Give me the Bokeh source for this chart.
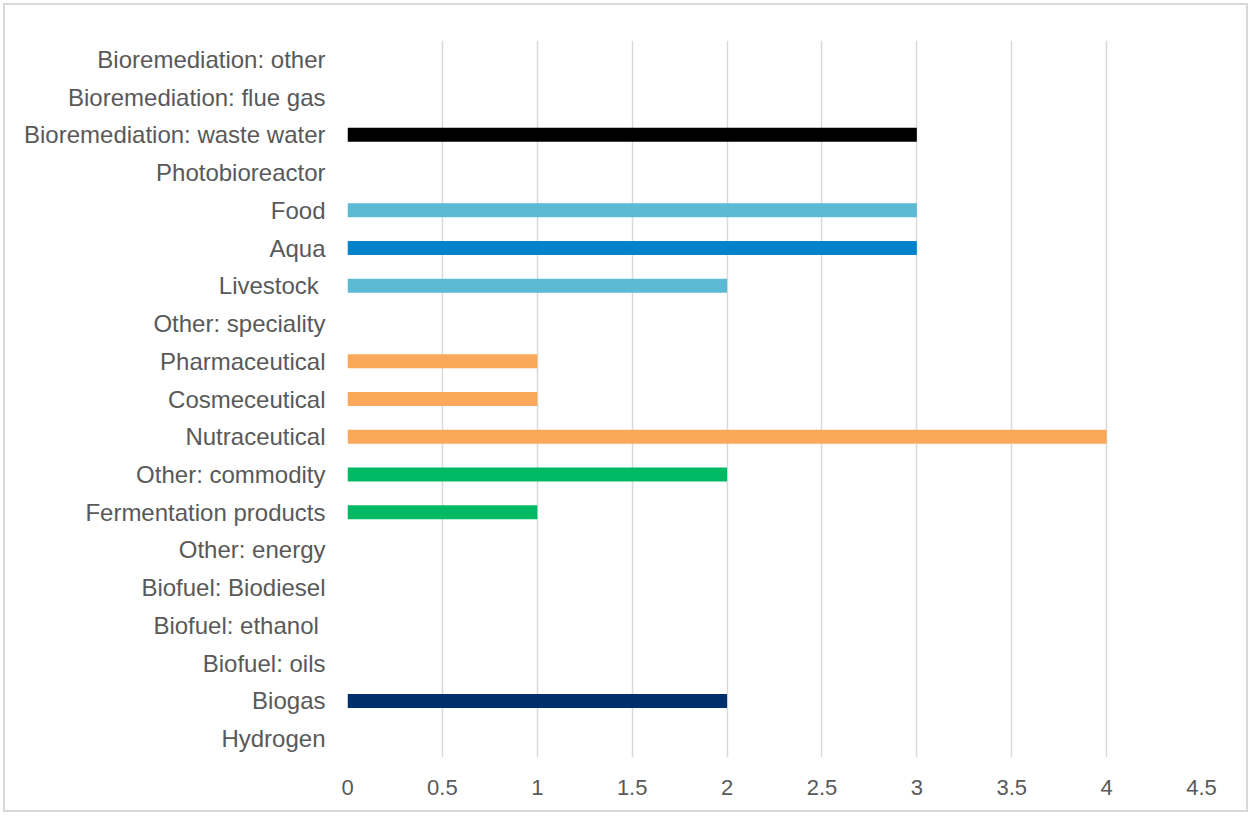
from bokeh.plotting import figure
from bokeh.models import ColumnDataSource, FactorRange, Range1d, FixedTicker
from bokeh.embed import file_html
from bokeh.resources import INLINE

categories = [
    "Hydrogen", "Biogas", "Biofuel: oils", "Biofuel: ethanol ", "Biofuel: Biodiesel",
    "Other: energy", "Fermentation products", "Other: commodity", "Nutraceutical",
    "Cosmeceutical", "Pharmaceutical", "Other: speciality", "Livestock ", "Aqua",
    "Food", "Photobioreactor", "Bioremediation: waste water", "Bioremediation: flue gas",
    "Bioremediation: other",
]
values = [0, 2, 0, 0, 0, 0, 1, 2, 4, 1, 1, 0, 2, 3, 3, 0, 3, 0, 0]
colors = [
    "#002F6C", "#002F6C", "#002F6C", "#002F6C", "#002F6C",
    "#00B963", "#00B963", "#00B963", "#FAA859",
    "#FAA859", "#FAA859", "#FAA859", "#5DBAD4", "#0083CB",
    "#5DBAD4", "#5DBAD4", "#000000", "#000000", "#000000",
]
x_ticks = [0, 0.5, 1, 1.5, 2, 2.5, 3, 3.5, 4, 4.5]

source = ColumnDataSource(data=dict(cat=categories, val=values, color=colors))

p = figure(
    width=1245, height=809,
    y_range=FactorRange(*categories, range_padding=0),
    x_range=Range1d(0, 4.5),
    output_backend="svg", toolbar_location=None,
    min_border_left=342, min_border_right=49, min_border_top=35, min_border_bottom=57,
)
p.styles = {"border": "2px solid #d9d9d9", "box-sizing": "border-box",
            "margin-left": "3px", "margin-top": "3px"}

p.hbar(y="cat", right="val", left=0, height=0.37, fill_color="color",
       line_color=None, source=source)

p.outline_line_color = None
p.ygrid.grid_line_color = None
p.xgrid.grid_line_color = "#d9d9d9"
p.xgrid.grid_line_width = 1.5
p.xaxis.ticker = FixedTicker(ticks=x_ticks)
p.xaxis.major_label_overrides = {t: (str(int(t)) if float(t).is_integer() else str(t)) for t in x_ticks}

for ax in (p.xaxis, p.yaxis):
    ax.axis_line_color = None
    ax.major_tick_line_color = None
    ax.minor_tick_line_color = None
    ax.major_label_text_font = "Liberation Sans"
    ax.major_label_text_color = "#595959"

p.yaxis.major_label_text_font_size = "24px"
p.xaxis.major_label_text_font_size = "22px"
p.xaxis.major_label_standoff = 16
p.yaxis.major_label_standoff = 16

open("out.html", "w").write(file_html(p, INLINE))
